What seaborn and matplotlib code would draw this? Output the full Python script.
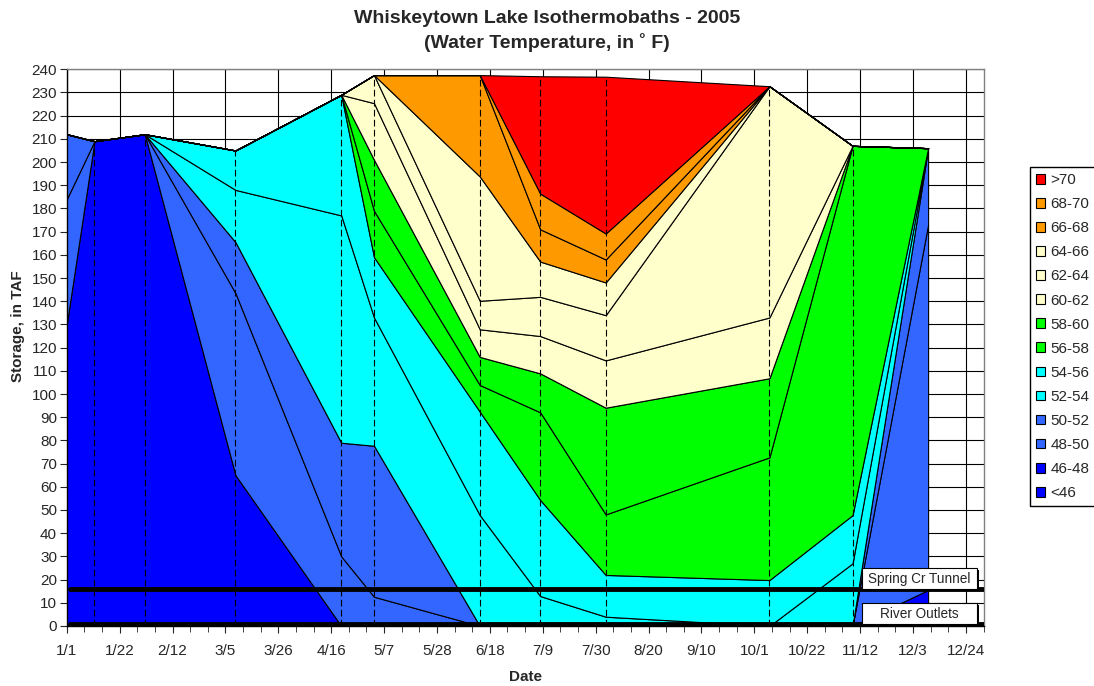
import pandas as pd
import seaborn as sns
import matplotlib.pyplot as plt
import matplotlib.dates as mdates
import matplotlib.ticker as mticker
from matplotlib.patches import Patch, Rectangle

# survey dates
dates = pd.to_datetime(["2005-01-01", "2005-01-12", "2005-02-01", "2005-03-09",
                        "2005-04-20", "2005-05-03", "2005-06-14", "2005-07-08",
                        "2005-08-03", "2005-10-07", "2005-11-09", "2005-12-09"])

# storage (TAF) inside each temperature band, coldest band first
lt46   = [0, 0, 0, 0, 0, 0, 0, 0, 0, 0, 0, 0]
t46_48 = [130, 209, 212, 65, 0, 0, 0, 0, 0, 0, 0, 15.5]
t48_50 = [54, 0, 0, 78.5, 30, 12.6, 0, 0, 0, 0, 0, 157.5]
t50_52 = [28, 0, 0, 22, 49, 65.1, 0, 0, 0, 0, 0, 33]
t52_54 = [0, 0, 0, 22.5, 98, 55.3, 47.8, 12.9, 4, 0, 27, 0]
t54_56 = [0, 0, 0, 17, 52, 26, 44.6, 41.4, 18, 19.8, 20.8, 0]
t56_58 = [0, 0, 0, 0, 0, 20, 11.5, 37.8, 26.1, 52.9, 159.2, 0]
t58_60 = [0, 0, 0, 0, 0, 22, 12.1, 16.8, 46, 34.1, 0, 0]
t60_62 = [0, 0, 0, 0, 0, 24.4, 11.9, 16.1, 20.4, 26.2, 0, 0]
t62_64 = [0, 0, 0, 0, 0, 12.1, 12.3, 16.9, 19.5, 99.7, 0, 0]
t64_66 = [0, 0, 0, 0, 0, 0, 53.6, 15.2, 14.1, 0, 0, 0]
t66_68 = [0, 0, 0, 0, 0, 0, 43.7, 13.9, 9.9, 0, 0, 0]
t68_70 = [0, 0, 0, 0, 0, 0, 0, 15.4, 11.2, 0, 0, 0]
gt70   = [0, 0, 0, 0, 0, 0, 0, 50.6, 67.6, 0, 0, 0]

bands = ["<46", "46-48", "48-50", "50-52", "52-54", "54-56", "56-58",
         "58-60", "60-62", "62-64", "64-66", "66-68", "68-70", ">70"]
band_colors = ["#0000FF", "#0000FF", "#3366FF", "#3366FF", "#00FFFF", "#00FFFF",
               "#00FF00", "#00FF00", "#FFFFCC", "#FFFFCC", "#FFFFCC",
               "#FF9900", "#FF9900", "#FF0000"]

tunnel_elev = 16   # Spring Cr Tunnel
outlet_elev = 1    # River Outlets

layers = [lt46, t46_48, t48_50, t50_52, t52_54, t54_56, t56_58,
          t58_60, t60_62, t62_64, t64_66, t66_68, t68_70, gt70]
df = pd.DataFrame(dict(zip(bands, layers)), index=dates)
total = df.sum(axis=1)

sns.set_style("white")
plt.rcParams["font.family"] = ["Liberation Sans", "DejaVu Sans"]

fig = plt.figure(figsize=(10.94, 6.86), dpi=100)
ax = fig.add_axes([0.061, 0.0875, 0.838, 0.8115])

ax.stackplot(df.index, *[df[b] for b in bands], colors=band_colors,
             edgecolor="black", linewidth=0.8, zorder=2)

# dashed survey markers
ax.vlines(df.index[1:-1], 0, total.iloc[1:-1], colors="black",
          linestyles=(0, (6, 3)), linewidth=0.8, zorder=3)

# intake levels
ax.axhline(tunnel_elev, xmin=0.004, xmax=1, color="black", lw=3.5, zorder=4)
ax.axhline(outlet_elev, xmin=0.004, xmax=1, color="black", lw=3.5, zorder=4)

for ytxt, ylo, txt in [(0.085, 0.0664, "Spring Cr Tunnel"), (0.0215, 0.0036, "River Outlets")]:
    shadow = Rectangle((0.8695, ylo - 0.004), 0.1254, 0.0376, transform=ax.transAxes,
                       facecolor="black", edgecolor="none", zorder=5)
    box = Rectangle((0.867, ylo), 0.1254, 0.0376, transform=ax.transAxes,
                    facecolor="white", edgecolor="black", lw=0.8, zorder=6)
    ax.add_patch(shadow)
    ax.add_patch(box)
    ax.text(0.9297, ytxt, txt, transform=ax.transAxes, ha="center", va="center",
            fontsize=9.8, zorder=7)

# axes
ax.set_xlim(pd.Timestamp("2005-01-01"), pd.Timestamp("2005-12-31"))
ax.set_ylim(0, 240)
major = pd.date_range("2005-01-01", "2005-12-31", freq="21D")
minor = pd.date_range("2005-01-01", "2005-12-31", freq="7D")
ax.xaxis.set_major_locator(mticker.FixedLocator(mdates.date2num(major)))
ax.xaxis.set_minor_locator(mticker.FixedLocator(mdates.date2num(minor)))
ax.xaxis.set_major_formatter(mdates.DateFormatter("%-m/%-d"))
ax.yaxis.set_major_locator(mticker.MultipleLocator(10))

ax.grid(True, which="major", color="black", lw=0.8)
ax.set_axisbelow(True)
ax.tick_params(axis="x", which="major", length=5, pad=8, labelsize=11, direction="out", bottom=True)
ax.tick_params(axis="x", which="minor", length=4, direction="out", bottom=True)
ax.tick_params(axis="y", length=5, pad=2, labelsize=11, direction="out", left=True)
for s in ["top", "right"]:
    ax.spines[s].set_color("#808080")
for s in ["left", "bottom"]:
    ax.spines[s].set_color("black")
for s in ax.spines.values():
    s.set_linewidth(1)

fig.text(0.5, 1 - 31 / 686, "Whiskeytown Lake Isothermobaths - 2005\n(Water Temperature, in ˚ F)",
         ha="center", va="center", fontsize=14, fontweight="bold", linespacing=1.35)
fig.text(0.48, 1 - 677 / 686, "Date", ha="center", va="center", fontsize=11, fontweight="bold")
fig.text(18 / 1094, 1 - 326 / 686, "Storage, in TAF", ha="center", va="center",
         rotation=90, fontsize=11, fontweight="bold")

handles = [Patch(facecolor=c, edgecolor="black", lw=0.8) for c in band_colors]
fig.legend(handles[::-1], bands[::-1], loc="upper left",
           bbox_to_anchor=(1030 / 1094, 1 - 167 / 686), fontsize=11,
           frameon=True, fancybox=False, edgecolor="black", framealpha=1,
           handlelength=0.6, handleheight=0.6, handletextpad=0.35,
           borderpad=0.4, labelspacing=0.66, borderaxespad=0)

fig.savefig("out.png", dpi=100)
